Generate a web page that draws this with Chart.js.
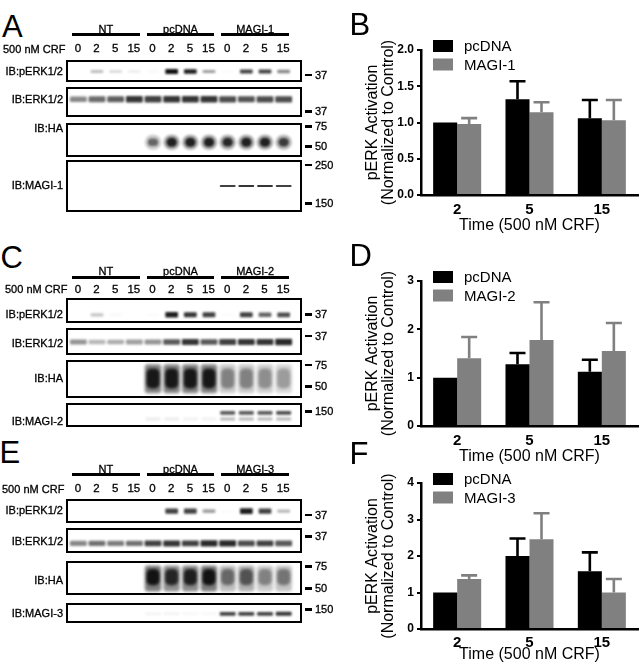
<!DOCTYPE html>
<html><head><meta charset="utf-8">
<script src="https://cdn.jsdelivr.net/npm/chart.js@4.4.0/dist/chart.umd.min.js"></script>
<style>
html,body{margin:0;padding:0;background:#fff;}
#root{position:relative;width:640px;height:666px;overflow:hidden;font-family:"Liberation Sans",Arial,Helvetica,sans-serif;color:#000;background:#fff;}
.t{position:absolute;white-space:nowrap;line-height:1;z-index:5;}
.s{-webkit-text-stroke:0.3px #000;}
.box{position:absolute;border:2.5px solid #000;box-sizing:border-box;z-index:4;}
.bar{position:absolute;background:#000;z-index:4;}
canvas{position:absolute;}
</style></head><body><div id="root"></div>
<script>
// ================= DATA =================
// Bar charts (pERK activation, normalized to control)
const timeCategories = ['2', '5', '15'];
const xTitle = 'Time (500 nM CRF)';
const yTitle = ['pERK Activation', '(Normalized to Control)'];

const seriesB = ['pcDNA', 'MAGI-1'];
const pcdnaB = [1.00, 1.32, 1.06];
const pcdnaErrB = [0, 0.25, 0.25];
const magi1B = [0.98, 1.14, 1.03];
const magi1ErrB = [0.08, 0.14, 0.28];
const yTicksB = [0, 0.5, 1.0, 1.5, 2.0];

const seriesD = ['pcDNA', 'MAGI-2'];
const pcdnaD = [1.00, 1.28, 1.12];
const pcdnaErrD = [0, 0.23, 0.25];
const magi2D = [1.40, 1.78, 1.55];
const magi2ErrD = [0.44, 0.78, 0.58];
const yTicksD = [0, 1, 2, 3];

const seriesF = ['pcDNA', 'MAGI-3'];
const pcdnaF = [1.00, 2.00, 1.58];
const pcdnaErrF = [0, 0.48, 0.52];
const magi3F = [1.37, 2.46, 1.00];
const magi3ErrF = [0.10, 0.71, 0.37];
const yTicksF = [0, 1, 2, 3, 4];

// Western blots: band intensity per lane (NT 0,2,5,15 | pcDNA 0,2,5,15 | MAGI 0,2,5,15)
const crfTimes = ['0', '2', '5', '15'];
const blotA_pERK = [0, 0.28, 0.18, 0.08, 0.03, 1.0, 0.95, 0.42, 0.02, 0.8, 0.8, 0.5];
const blotA_ERK  = [0.5, 0.62, 0.68, 0.85, 0.8, 0.85, 0.85, 0.85, 0.75, 0.72, 0.75, 0.75];
const blotA_HA   = [0, 0, 0, 0, 0.55, 0.9, 0.9, 0.9, 0.85, 0.9, 0.9, 0.75];
const blotA_MAGI = [0, 0, 0, 0, 0, 0, 0, 0, 0.8, 0.85, 0.85, 0.8];

const blotC_pERK = [0, 0.25, 0.03, 0, 0.02, 0.95, 0.85, 0.8, 0.02, 0.8, 0.65, 0.75];
const blotC_ERK  = [0.45, 0.3, 0.35, 0.4, 0.45, 0.7, 0.85, 0.7, 0.8, 0.85, 0.85, 0.9];
const blotC_HA   = [0, 0, 0, 0, 0.95, 0.95, 0.95, 0.95, 0.4, 0.4, 0.35, 0.3];
const blotC_MAGI = [0, 0, 0, 0, 0, 0, 0, 0, 0.7, 0.7, 0.7, 0.75];
const blotC_MAGIlow = [0, 0, 0, 0, 0.08, 0.08, 0.06, 0.06, 0.3, 0.3, 0.3, 0.3];

const blotE_pERK = [0, 0, 0, 0, 0, 0.8, 0.8, 0.4, 0.02, 0.95, 0.8, 0.3];
const blotE_ERK  = [0.5, 0.6, 0.55, 0.6, 0.8, 0.85, 0.8, 0.9, 0.9, 0.75, 0.8, 0.7];
const blotE_HA   = [0, 0, 0, 0, 1.0, 0.85, 0.9, 1.0, 0.5, 0.6, 0.4, 0.45];
const blotE_MAGI = [0, 0, 0, 0, 0.06, 0.06, 0.04, 0.04, 0.8, 0.8, 0.8, 0.85];

// ================= LAYOUT / STYLE =================
const FONT = '"Liberation Sans", Arial, Helvetica, sans-serif';
Chart.defaults.font.family = FONT;
Chart.defaults.color = '#000';
const root = document.getElementById('root');

function txt(x, yc, s, size, align, weight, stroke) {
  const d = document.createElement('div');
  d.className = 't' + (stroke ? ' s' : '');
  d.textContent = s;
  d.style.fontSize = size + 'px';
  if (weight) d.style.fontWeight = weight;
  d.style.top = (yc - 0.4885 * size) + 'px';
  if (align === 'right') d.style.right = (640 - x) + 'px';
  else if (align === 'center') { d.style.left = x + 'px'; d.style.transform = 'translateX(-50%)'; }
  else d.style.left = x + 'px';
  root.appendChild(d);
}
function mkCanvas(left, top, w, h, blur) {
  const c = document.createElement('canvas');
  c.width = Math.round(w); c.height = Math.round(h);
  c.style.left = left + 'px'; c.style.top = top + 'px';
  c.style.width = Math.round(w) + 'px'; c.style.height = Math.round(h) + 'px';
  if (blur) c.style.filter = 'blur(' + blur + 'px)';
  root.appendChild(c);
  return c;
}

const BOX_L = 66, BOX_R = 302, BW = 2.5;
const laneLabels = [];
['NT', 'pcDNA', 'MAGI'].forEach(g => crfTimes.forEach(t => laneLabels.push(g + ' ' + t)));

const panelsLeft = [
  { letter: 'A', letterX: 2, letterY: 26, groups: ['NT', 'pcDNA', 'MAGI-1'], groupLabelY: 29, groupBarY: 34.5, crfX: 3, crfY: 49,
    strips: [
      { label: 'IB:pERK1/2', top: 60, bottom: 82, labelY: 71, markers: [['37', 75]], blur: 0.8,
        bands: [{ v: blotA_pERK, c: 0.5, h0: 0.06, h1: 0.08, w: 0.68, r: 1 }] },
      { label: 'IB:ERK1/2', top: 87, bottom: 117, labelY: 99, markers: [['37', 111.7]], blur: 0.9,
        bands: [{ v: blotA_ERK, c: 0.37, h0: 0.08, h1: 0.06, w: 0.9, r: 1 }] },
      { label: 'IB:HA', top: 123, bottom: 157, labelY: 128.3, markers: [['75', 126.7], ['50', 146.7]], blur: 1.2,
        bands: [{ v: blotA_HA, c: 0.56, h0: 0.26, h1: 0, w: 0.88, r: 8, a: 0.4 },
                { v: blotA_HA, c: 0.56, h0: 0.1, h1: 0.06, w: 0.55, r: 5 }] },
      { label: 'IB:MAGI-1', top: 160, bottom: 212, labelY: 185, markers: [['250', 165], ['150', 203.3]], blur: 0.6,
        bands: [{ v: blotA_MAGI, c: 0.49, h0: 0.016, h1: 0.008, w: 0.85, r: 1 }] }
    ] },
  { letter: 'C', letterX: 0.5, letterY: 257.5, groups: ['NT', 'pcDNA', 'MAGI-2'], groupLabelY: 271.5, groupBarY: 277.7, crfX: 5, crfY: 289.3,
    strips: [
      { label: 'IB:pERK1/2', top: 298, bottom: 323, labelY: 314.3, markers: [['37', 314.3]], blur: 0.8,
        bands: [{ v: blotC_pERK, c: 0.69, h0: 0.06, h1: 0.08, w: 0.68, r: 1 }] },
      { label: 'IB:ERK1/2', top: 328, bottom: 355, labelY: 343.3, markers: [['37', 336]], blur: 0.9,
        bands: [{ v: blotC_ERK, c: 0.5, h0: 0.08, h1: 0.07, w: 0.9, r: 1 }] },
      { label: 'IB:HA', top: 360, bottom: 398, labelY: 378.3, markers: [['75', 365], ['50', 386.7]], blur: 1.6,
        bands: [{ v: blotC_HA, c: 0.48, h0: 0.44, h1: 0, w: 0.88, r: 3, a: 0.55 },
                { v: blotC_HA, c: 0.47, h0: 0.3, h1: 0, w: 0.72, r: 5 }] },
      { label: 'IB:MAGI-2', top: 403, bottom: 427, labelY: 421.7, markers: [['150', 411.7]], blur: 0.8,
        bands: [{ v: blotC_MAGI, c: 0.36, h0: 0.08, h1: 0.02, w: 0.8, r: 1 },
                { v: blotC_MAGIlow, c: 0.68, h0: 0.08, h1: 0, w: 0.8, r: 1 }] }
    ] },
  { letter: 'E', letterX: -0.5, letterY: 452.5, groups: ['NT', 'pcDNA', 'MAGI-3'], groupLabelY: 469.5, groupBarY: 474.3, crfX: 2, crfY: 489,
    strips: [
      { label: 'IB:pERK1/2', top: 499, bottom: 523, labelY: 510.7, markers: [['37', 515]], blur: 0.8,
        bands: [{ v: blotE_pERK, c: 0.48, h0: 0.06, h1: 0.09, w: 0.68, r: 1 }] },
      { label: 'IB:ERK1/2', top: 528, bottom: 553, labelY: 541, markers: [['37', 536.7]], blur: 0.9,
        bands: [{ v: blotE_ERK, c: 0.62, h0: 0.1, h1: 0.06, w: 0.9, r: 1 }] },
      { label: 'IB:HA', top: 561, bottom: 595, labelY: 580, markers: [['75', 566.7], ['50', 588.3]], blur: 1.6,
        bands: [{ v: blotE_HA, c: 0.5, h0: 0.45, h1: 0, w: 0.88, r: 3, a: 0.55 },
                { v: blotE_HA, c: 0.45, h0: 0.28, h1: 0, w: 0.72, r: 5 }] },
      { label: 'IB:MAGI-3', top: 603, bottom: 623, labelY: 613.3, markers: [['150', 609.3]], blur: 0.8,
        bands: [{ v: blotE_MAGI, c: 0.52, h0: 0.08, h1: 0.06, w: 0.85, r: 1 }] }
    ] }
];

function stripChart(canvas, bands) {
  return new Chart(canvas, {
    type: 'bar',
    data: {
      labels: laneLabels,
      datasets: bands.map(b => ({
        data: b.v.map(v => { const h = b.h0 + b.h1 * v; return [b.c - h, b.c + h]; }),
        backgroundColor: b.v.map(v => 'rgba(18,18,18,' + (v * (b.a || 1)).toFixed(3) + ')'),
        barPercentage: b.w, categoryPercentage: 1, grouped: false,
        borderWidth: 0, borderRadius: b.r || 0, borderSkipped: false
      }))
    },
    options: {
      animation: false, responsive: false, events: [],
      layout: { padding: { left: 0, right: 7, top: 0, bottom: 0 } },
      plugins: { legend: { display: false }, tooltip: { enabled: false } },
      scales: {
        x: { display: false, offset: true },
        y: { display: false, min: 0, max: 1, reverse: true }
      }
    }
  });
}

panelsLeft.forEach(p => {
  txt(p.letterX, p.letterY, p.letter, 31, 'left');
  let laneX = null, laneW = 0;
  p.strips.forEach((s, si) => {
    const box = document.createElement('div');
    box.className = 'box';
    box.style.left = BOX_L + 'px'; box.style.top = s.top + 'px';
    box.style.width = (BOX_R - BOX_L) + 'px'; box.style.height = (s.bottom - s.top) + 'px';
    root.appendChild(box);
    const cl = BOX_L + BW, ct = s.top + BW;
    const cv = mkCanvas(cl, ct, BOX_R - BOX_L - 2 * BW, s.bottom - s.top - 2 * BW, s.blur);
    const ch = stripChart(cv, s.bands);
    if (si === 0) {
      const xs = ch.scales.x;
      laneX = laneLabels.map((_, i) => cl + xs.getPixelForValue(i));
      laneW = xs.getPixelForValue(1) - xs.getPixelForValue(0);
    }
    txt(63, s.labelY, s.label, 11, 'right', null, true);
    s.markers.forEach(m => {
      const d = document.createElement('div');
      d.className = 'bar';
      d.style.left = '305px'; d.style.width = '7px';
      d.style.top = (m[1] - 1.35) + 'px'; d.style.height = '2.7px';
      root.appendChild(d);
      txt(315, m[1], m[0], 11, 'left', null, true);
    });
  });
  // group headers + lane numbers
  txt(p.crfX, p.crfY, '500 nM CRF', 11, 'left', null, true);
  p.groups.forEach((g, gi) => {
    const l = laneX[gi * 4] - laneW / 2 + 3.5;
    const r = laneX[gi * 4 + 3] + laneW / 2 - 3.5;
    const d = document.createElement('div');
    d.className = 'bar';
    d.style.left = l + 'px'; d.style.width = (r - l) + 'px';
    d.style.top = (p.groupBarY - 1.5) + 'px'; d.style.height = '3px';
    root.appendChild(d);
    txt((l + r) / 2, p.groupLabelY, g, 11, 'center', null, true);
    crfTimes.forEach((t, ti) => txt(laneX[gi * 4 + ti], p.crfY, t, 11.5, 'center', null, true));
  });
});

// ================= BAR CHARTS =================
const errorBars = {
  id: 'errorBars',
  afterDatasetsDraw(chart) {
    const ctx = chart.ctx, ys = chart.scales.y;
    chart.data.datasets.forEach((ds, di) => {
      const meta = chart.getDatasetMeta(di);
      meta.data.forEach((bar, i) => {
        const e = ds.err[i];
        if (!e) return;
        const top = ys.getPixelForValue(ds.data[i] + e);
        ctx.save();
        ctx.strokeStyle = ds.backgroundColor;
        ctx.lineWidth = 2.6;
        ctx.lineCap = 'butt';
        ctx.beginPath();
        ctx.moveTo(bar.x, bar.y); ctx.lineTo(bar.x, top);
        ctx.moveTo(bar.x - 8, top); ctx.lineTo(bar.x + 8, top);
        ctx.stroke();
        ctx.restore();
      });
    });
  }
};
const insetLegend = {
  id: 'insetLegend',
  afterDraw(chart) {
    const ctx = chart.ctx, a = chart.chartArea;
    chart.data.datasets.forEach((ds, i) => {
      const cy = a.top - 4 + i * 18.5;
      ctx.save();
      ctx.fillStyle = ds.backgroundColor;
      ctx.fillRect(a.left + 12, cy - 6, 20, 12);
      ctx.fillStyle = '#000';
      ctx.font = '15px ' + FONT;
      ctx.textBaseline = 'middle'; ctx.textAlign = 'left';
      ctx.fillText(ds.label, a.left + 43, cy + 1);
      ctx.restore();
    });
  }
};

function barChart(cfg) {
  const cv = mkCanvas(350, cfg.top, 290, cfg.h);
  new Chart(cv, {
    type: 'bar',
    data: {
      labels: timeCategories,
      datasets: [
        { label: cfg.names[0], data: cfg.v0, err: cfg.e0, backgroundColor: '#000000' },
        { label: cfg.names[1], data: cfg.v1, err: cfg.e1, backgroundColor: '#808080' }
      ]
    },
    options: {
      animation: false, responsive: false, events: [],
      layout: { padding: { top: cfg.padTop, right: 2, left: 0, bottom: 0 } },
      datasets: { bar: { categoryPercentage: 0.664, barPercentage: 1, borderWidth: 0 } },
      plugins: { legend: { display: false }, tooltip: { enabled: false } },
      scales: {
        x: {
          grid: { display: false, drawTicks: false },
          border: { display: true, color: '#000', width: 2.5 },
          ticks: { color: '#000', font: { size: 15, weight: 'bold' }, padding: cfg.tickPad },
          title: { display: true, text: xTitle, color: '#000', font: { size: 16 }, padding: { top: 0, bottom: cfg.titlePb } },
          afterFit: s => { s.height = cfg.xh; }
        },
        y: {
          min: 0, max: cfg.ticks[cfg.ticks.length - 1],
          afterBuildTicks: s => { s.ticks = cfg.ticks.map(v => ({ value: v })); },
          ticks: { color: '#000', font: { size: 12, weight: 'bold' }, padding: 3, callback: cfg.fmt },
          grid: { display: true, drawOnChartArea: false, drawTicks: true, tickLength: 4, color: '#000', lineWidth: 2 },
          border: { display: true, color: '#000', width: 2.5 },
          title: { display: true, text: yTitle, color: '#000', font: { size: 16, lineHeight: 1 }, padding: { top: 15, bottom: 0 } },
          afterFit: s => { s.width = 71; }
        }
      }
    },
    plugins: [errorBars, insetLegend]
  });
}

barChart({ top: 0, h: 236, padTop: 50, xh: 41, titlePb: 0.4, tickPad: 6, names: seriesB,
  v0: pcdnaB, e0: pcdnaErrB, v1: magi1B, e1: magi1ErrB, ticks: yTicksB, fmt: v => Number(v).toFixed(1) });
barChart({ top: 236, h: 234, padTop: 45, xh: 44, titlePb: 3.4, tickPad: 6, names: seriesD,
  v0: pcdnaD, e0: pcdnaErrD, v1: magi2D, e1: magi2ErrD, ticks: yTicksD, fmt: v => String(v) });
barChart({ top: 470, h: 196, padTop: 13, xh: 37, titlePb: 1.4, tickPad: 5, names: seriesF,
  v0: pcdnaF, e0: pcdnaErrF, v1: magi3F, e1: magi3ErrF, ticks: yTicksF, fmt: v => String(v) });

txt(349.5, 24.5, 'B', 31, 'left');
txt(349.5, 255, 'D', 31, 'left');
txt(349.5, 453.5, 'F', 31, 'left');
</script></body></html>
